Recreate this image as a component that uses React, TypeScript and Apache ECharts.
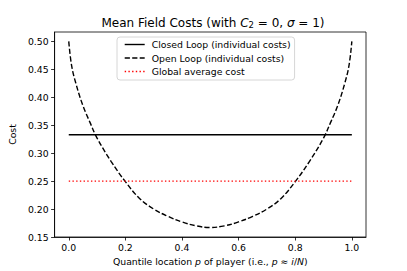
import React, { useEffect, useRef } from 'react';
import * as echarts from 'echarts';

// Quantile locations p and the open-loop cost
const pValues = [0, 0.01, 0.025, 0.05, 0.075, 0.1, 0.15, 0.2, 0.25, 0.3, 0.35, 0.4, 0.45, 0.5, 0.55, 0.6, 0.65, 0.7, 0.75, 0.8, 0.85, 0.9, 0.925, 0.95, 0.975, 0.99, 1];
const openLoopCost = [0.5, 0.457, 0.425, 0.385, 0.355, 0.327, 0.285, 0.249, 0.219, 0.2, 0.187, 0.177, 0.17, 0.167, 0.17, 0.177, 0.187, 0.2, 0.219, 0.249, 0.285, 0.327, 0.355, 0.385, 0.425, 0.457, 0.5];
const closedLoopP = [0, 1];
const closedLoopCost = [0.333, 0.333];
const globalAvgP = [0, 1];
const globalAvgCost = [0.25, 0.25];

const seriesNames = ['Closed Loop (individual costs)', 'Open Loop (individual costs)', 'Global average cost'];
const xTicks = [0, 0.2, 0.4, 0.6, 0.8, 1.0];
const yTicks = [0.15, 0.2, 0.25, 0.3, 0.35, 0.4, 0.45, 0.5];

const FONT = 'DejaVu Sans';

export default function App() {
  const ref = useRef<HTMLDivElement>(null);
  useEffect(() => {
    document.body.style.margin = '0';
    const chart = echarts.init(ref.current!, null, { renderer: 'svg' });
    const axisLineStyle = { color: '#000', width: 0.8 };
    chart.setOption({
      animation: false,
      textStyle: { fontFamily: FONT },
      title: {
        text: 'Mean Field Costs (with {i|C}{s|2} = 0, {i|σ} = 1)',
        left: 208,
        top: 12,
        textAlign: 'center',
        textStyle: {
          fontSize: 12,
          fontWeight: 'normal',
          color: '#000',
          fontFamily: FONT,
          rich: {
            i: { fontStyle: 'italic', fontSize: 12, color: '#000', fontFamily: FONT },
            s: { fontSize: 8.5, color: '#000', fontFamily: FONT, verticalAlign: 'bottom' },
          },
        },
      },
      grid: { left: 50, top: 32, width: 316, height: 205, show: true, borderColor: '#000', borderWidth: 0.8, backgroundColor: 'transparent' },
      legend: {
        orient: 'vertical',
        left: 117,
        top: 37,
        itemWidth: 20,
        itemHeight: 10,
        itemGap: 4.5,
        padding: [3, 4, 4, 7],
        backgroundColor: 'rgba(255,255,255,0.8)',
        borderColor: '#cccccc',
        borderWidth: 0.8,
        borderRadius: 3,
        itemStyle: { opacity: 0, borderWidth: 0 },
        lineStyle: { width: 1.4 },
        textStyle: { fontSize: 9.3, color: '#000', fontFamily: FONT, padding: [0, 0, 0, 2] },
        data: seriesNames,
      },
      xAxis: {
        type: 'value',
        min: -0.05,
        max: 1.05,
        axisLine: { onZero: false, lineStyle: axisLineStyle },
        axisTick: { customValues: xTicks, length: 3.5, lineStyle: axisLineStyle },
        axisLabel: { customValues: xTicks, formatter: (v: number) => v.toFixed(1), margin: 6, fontSize: 9.3, color: '#000', fontFamily: FONT },
        splitLine: { show: false },
        name: 'Quantile location {i|p} of player (i.e., {i|p} ≈ {i|i}/{i|N})',
        nameLocation: 'middle',
        nameGap: 18,
        nameTextStyle: {
          fontSize: 9.3,
          color: '#000',
          fontFamily: FONT,
          rich: { i: { fontStyle: 'italic', fontSize: 9.3, color: '#000', fontFamily: FONT } },
        },
      },
      yAxis: {
        type: 'value',
        min: 0.15,
        max: 0.5167,
        axisLine: { show: true, onZero: false, lineStyle: axisLineStyle },
        axisTick: { show: true, customValues: yTicks, length: 3.5, lineStyle: axisLineStyle },
        axisLabel: { customValues: yTicks, formatter: (v: number) => v.toFixed(2), margin: 6, fontSize: 9.3, color: '#000', fontFamily: FONT },
        splitLine: { show: false },
        name: 'Cost',
        nameLocation: 'middle',
        nameGap: 30,
        nameTextStyle: { fontSize: 9.3, color: '#000', fontFamily: FONT },
      },
      series: [
        {
          name: seriesNames[0],
          type: 'line',
          symbol: 'none',
          showSymbol: false,
          data: closedLoopP.map((p, i) => [p, closedLoopCost[i]]),
          lineStyle: { color: '#000', width: 1.4 },
          itemStyle: { color: '#000' },
        },
        {
          name: seriesNames[1],
          type: 'line',
          symbol: 'none',
          showSymbol: false,
          smooth: 0.4,
          data: pValues.map((p, i) => [p, openLoopCost[i]]),
          lineStyle: { color: '#000', width: 1.4, type: [5.2, 2.3] },
          itemStyle: { color: '#000' },
        },
        {
          name: seriesNames[2],
          type: 'line',
          symbol: 'none',
          showSymbol: false,
          data: globalAvgP.map((p, i) => [p, globalAvgCost[i]]),
          lineStyle: { color: '#ff0000', width: 1.4, type: [1.4, 2.3] },
          itemStyle: { color: '#ff0000' },
        },
      ],
    });
    return () => chart.dispose();
  }, []);
  return <div ref={ref} style={{ width: 407, height: 271 }} />;
}
